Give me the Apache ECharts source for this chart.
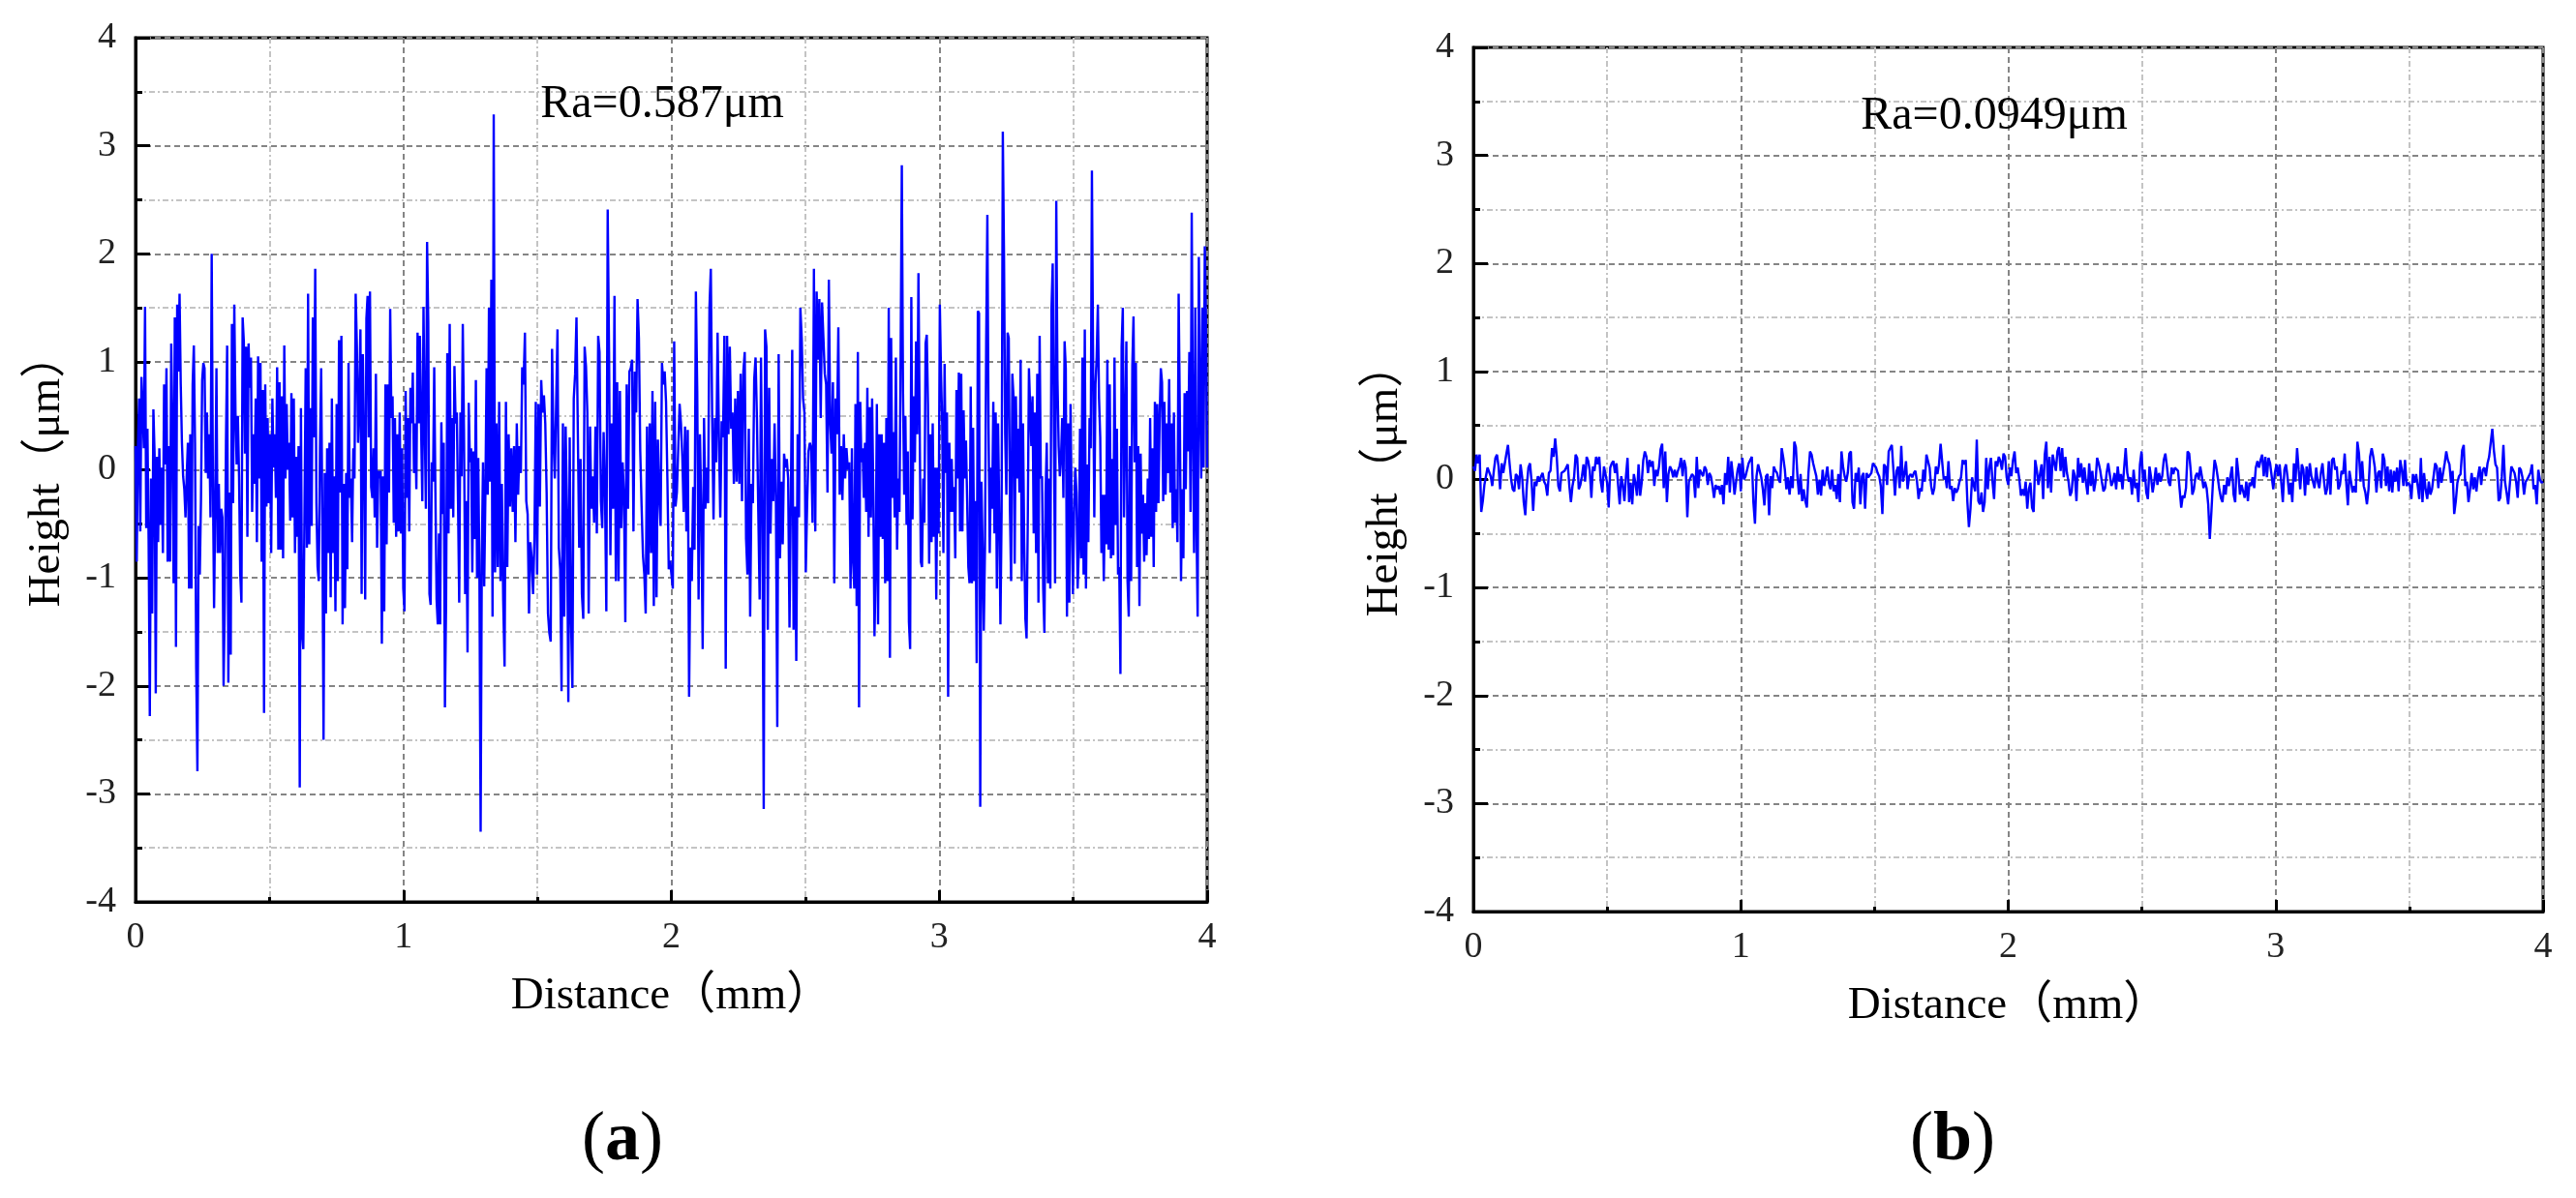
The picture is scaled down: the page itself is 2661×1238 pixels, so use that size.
<!DOCTYPE html>
<html>
<head>
<meta charset="utf-8">
<script src="https://cdn.jsdelivr.net/npm/echarts/dist/echarts.min.js"></script>
<style type="text/css">
    html, body { margin: 0; padding: 0; background: #fff; }
    #chart { width: 2661px; height: 1238px; }
</style>
</head>
<body>
<div id="chart"></div>
<script type="text/javascript">
// panel (a): profile in three pieces, each spread evenly over its own span (mm)
var segA = [0, 1.337, 2.674, 4];
var heightA1 = [
0.22,-0.85,0.2,0.66,-0.57,0.86,0.55,0.2,1.51,-0.54,
0.38,-0.64,-2.28,-0.08,-1.33,0.56,0.15,-2.07,0.12,-0.67,
0.2,-0.51,0.02,-0.77,0.79,0.05,0.94,-0.85,0.22,-0.85,
1.17,0.4,-1.05,1.41,-1.64,1.53,0.91,1.63,0.79,0.25,
-0.06,-0.18,-0.44,-0.06,0.25,-1.1,0.33,-1.1,0.79,1.15,
0.25,-1.84,-2.79,-0.52,-0.97,-0.28,0.83,0.99,0.94,-0.03,
0.53,-0.08,0.33,-0.44,2.0,-0.06,-1.28,-0.29,0.94,-0.77,
-0.13,-0.77,-0.36,-0.44,-2.0,-1.23,0.25,1.15,-1.97,-0.21,
-1.71,1.35,-0.31,1.53,0.53,0.05,0.5,-0.06,-0.97,-1.23,
1.41,1.19,0.15,1.14,-0.62,1.17,0.76,1.04,-0.39,0.33,
-0.13,0.66,-0.67,1.05,-0.08,0.99,-0.85,0.74,-2.25,0.79,
-0.34,0.48,-0.31,0.33,-0.77,0.66,0.02,0.33,-0.26,0.95,
-0.74,0.81,-0.74,0.68,-0.82,1.15,-0.08,0.61,0.0,0.25,
-0.47,0.71,-0.44,0.66,-0.77,0.12,-0.62,0.22,-2.94,0.57,
-1.51,-1.66,-0.36,0.94,-0.72,1.63,-0.69,0.57,-0.52,1.41,
0.3,1.86,-0.31,-0.9,-1.03,0.2,0.94,-0.49,-2.5,-0.03,
-1.33,0.2,-0.77,0.25,-1.18,0.66,-0.77,-0.06,-1.31,0.61,
-1.03,1.2,-0.21,1.24,-1.43,-0.13,-1.28,-0.03,-0.92,0.99,
-0.26,-0.08,-0.67,0.2,-0.08,1.63,1.15,0.25,0.64,1.3,
-1.15,1.07,0.25,-1.2,1.4,1.61,0.3,1.65,-0.16,-0.26,
0.2,-0.44,0.89,-0.72,-0.01,-0.08,-0.01,-1.61,-0.06,-1.31,
0.79,-0.69,0.79,-0.21,1.49,0.48,0.68,-0.49,0.48,-0.62,
0.33,-0.57,0.53,-0.59,0.2,-1.1,-1.31,0.73,-0.26,0.48,
-0.57,0.76,0.43,0.9,-0.03,0.43,-0.18,1.27,0.43,1.24,
0.38,-0.29,1.51,0.43,-0.36,2.11,1.37,-1.15,-1.25,0.07,
-0.11,0.95,-0.21,-1.2,-1.43,-0.59,-1.43,0.44,-0.41,0.25,
-2.2,-1.2,1.08,-0.59,1.35,-0.36,0.48,-0.44,0.96,0.43,
0.53,-0.29,-1.23,0.53,-0.06,1.35,0.38,-1.15,-0.29,-1.69,
0.62,0.07,0.2,-0.95,0.17,-0.64,0.83,-1.0,0.11,-1.0,
-3.35,-0.79,0.07,-1.08,-0.23,0.94,-0.23,1.5,-0.11,1.76,
-1.36
];
var heightA2 = [
3.29,-0.95,0.43,-0.9,0.63,-1.03,-0.13,-1.21,-1.82,0.63,
-0.9,0.33,-0.34,0.2,-0.39,0.22,-0.67,0.43,-0.23,0.22,
-0.03,0.95,0.79,1.27,-0.29,-0.41,-1.33,-0.67,-0.82,-1.15,
-0.64,0.63,-0.97,0.61,-0.34,0.83,0.53,0.69,0.43,-0.21,
-1.33,-1.51,-1.59,1.12,0.3,-0.08,0.61,1.3,-0.72,-0.92,
-2.05,0.43,-1.36,0.4,-0.36,-2.15,0.3,-1.41,-2.02,0.66,
0.89,1.41,1.4,-0.72,0.1,-1.15,-1.38,1.14,0.96,0.53,
-1.33,0.4,-0.36,-0.06,-0.49,0.4,-0.59,1.24,1.09,-0.29,
-0.54,0.35,-0.18,-1.31,2.41,1.09,-0.79,0.43,-0.36,1.61,
-1.03,0.81,-1.03,0.73,-0.54,0.07,-0.23,-1.41,0.79,-0.36,
0.91,0.94,1.02,-0.57,0.91,0.53,1.58,1.22,0.17,-0.34,
-0.79,-0.97,-1.33,0.4,-0.97,0.43,-0.77,0.73,-1.26,0.63,
-1.18,0.28,-0.23,-0.52,0.99,0.79,0.91,0.63,-0.08,-0.92,
-0.84,-0.97,-1.1,1.19,-0.34,-0.21,0.2,0.61,0.43,0.12,
-0.39,0.4,-0.57,0.37,-2.1,-0.72,-1.03,-0.16,-0.74,1.65,
0.73,-1.2,0.33,-0.39,-1.66,0.48,-0.36,0.02,-0.31,1.5,
1.86,0.5,-0.46,0.48,0.07,1.27,0.3,-0.44,0.45,0.3,
1.24,-1.84,1.24,0.33,1.14,0.38,0.53,-0.13,0.66,-0.11,
0.73,-0.13,0.89,-0.29,0.91,1.09,-0.64,-0.97,0.38,-1.36,
-0.13,-0.31,0.84,1.04,0.48,-0.39,-1.2,1.04,-0.39,-3.14,
1.3,1.14,-1.48,0.76,-0.59,0.1,-0.29,0.43,-0.31,-2.38,
1.07,-0.82,-0.11,-0.69,0.15,0.02,0.1,-0.08,-1.46,-0.26,
1.11,-1.48,-0.34,-1.77,0.33,-0.44,1.5,1.22,0.66,0.53,
-0.95,-0.31,0.17,0.25,0.2,-0.49,1.86,-0.57,1.65,1.02,
1.58,0.48,1.55,1.22,0.89,0.79,-0.21,1.76,0.43,0.15,
0.81,-1.05,0.66,0.33,1.32,-0.23,0.22,-0.28,0.33,-0.08,
0.2,0.0,0.07,-1.1
];
var heightA3 = [
0.2,-0.85,-1.1,0.61,-1.26,1.09,-2.2,0.63,0.07,0.2,
-0.26,0.25,-0.39,0.76,-0.62,0.58,-0.44,0.66,-0.21,-1.54,
-0.9,0.61,-1.43,0.33,-0.62,0.33,-0.64,0.25,-1.05,0.48,
-1.03,1.5,-1.74,1.22,-0.26,0.35,-0.44,1.04,-0.74,-0.08,
-0.39,1.05,2.82,0.73,-0.23,0.5,-0.51,0.17,-1.41,-1.66,
1.6,-0.46,0.68,0.07,1.19,0.33,1.82,0.45,-0.85,-0.9,
-0.08,-0.49,1.17,1.25,0.61,-0.87,0.33,-0.67,0.43,-0.62,
0.02,-1.2,0.02,-0.59,1.53,0.89,0.43,-0.77,0.98,-0.03,
0.53,-2.1,0.25,-0.39,0.1,-0.39,-0.16,-0.82,0.74,-0.08,
0.9,-0.57,0.89,-0.57,0.55,-0.08,0.27,-0.29,-0.9,-1.05,
0.77,-1.05,0.39,-1.03,-0.29,-1.79,1.47,1.45,-3.12,-0.11,
-0.72,-1.49,-0.72,1.17,2.36,0.38,-0.77,0.02,-0.36,0.63,
-0.59,0.53,-1.1,0.43,-0.39,-1.43,-0.38,3.13,2.0,0.33,
-0.23,1.27,1.22,-0.36,-1.03,0.89,0.68,-0.87,0.68,-0.08,
0.38,-0.21,1.02,-1.03,0.43,-0.67,-1.38,-1.56,-0.49,0.94,
0.94,0.22,0.68,-0.59,0.53,-0.77,0.89,-1.23,1.24,-0.08,
-0.06,-1.1,-1.51,-0.22,0.25,-1.05,-0.08,-1.1,1.5,1.91,
0.33,-1.05,2.49,0.84,0.22,-0.06,0.12,0.48,-0.26,1.19,
0.94,-1.36,0.43,-1.23,0.61,-0.39,-1.15,-0.39,0.02,-0.21,
-1.1,-0.72,0.38,-0.82,1.04,-0.97,1.3,-1.1,0.05,-0.67,
0.48,0.2,2.77,0.99,-0.44,0.79,1.04,1.53,0.66,0.3,
-0.77,-0.23,-1.03,-0.23,-0.69,1.02,-0.74,0.79,-0.82,0.1,
-0.79,1.04,-0.51,0.38,-0.97,-0.9,-1.89,1.14,1.5,-0.44,
0.4,1.19,-1.03,-1.36,0.22,-1.03,0.96,1.42,0.07,0.99,
-0.9,0.22,-1.26,0.15,-0.59,-0.23,-0.85,-0.31,-0.79,-0.08,
-0.64,0.48,-0.62,0.2,-0.9,0.63,-0.39,0.61,-0.31,0.48,
0.94,0.81,-0.29,0.63,-0.23,0.43,-0.03,0.84,-0.21,0.43,
-0.54,0.53,-0.49,-0.18,-0.67,1.63,0.53,-1.03,-0.18,-0.82,
0.71,-0.18,0.73,0.17,1.09,-0.39,2.38,0.4,-0.77,1.5,
-0.51,-1.36,1.97,0.71,-0.08,1.5,0.02,2.07,1.37,0.02
];

// panel (b): polished profile, two pieces
var segB = [0, 2, 4];
var heightB1 = [
0.12,0.08,0.23,0.15,0.23,-0.3,-0.2,-0.05,-0.05,0.11,
0.11,0.03,-0.06,0.08,0.2,0.23,0.12,-0.09,0.15,0.06,
0.06,0.24,0.32,0.15,0,-0.09,-0.11,0.05,0.03,-0.09,
0.14,0.02,-0.21,-0.33,-0.05,0.11,0.15,-0.02,-0.29,-0.02,
-0.06,0.03,-0.02,0.03,0.06,-0.02,-0.05,-0.15,0.06,0.08,
0.29,0.21,0.38,0.21,-0.06,-0.11,0.06,0.06,0.08,0.11,
0.14,-0.06,-0.21,-0.06,0.02,0.23,0.2,-0.09,-0.05,0.03,
0.14,-0.02,0.21,0.17,0.08,-0.17,0.12,0.08,0.21,0.14,
0.21,-0.02,-0.12,0.12,0.05,-0.03,-0.26,0.11,0.15,0.17,
0.06,0.15,-0.05,-0.23,0.03,-0.05,-0.2,0.03,0.2,-0.21,
-0.03,-0.23,0.05,-0.03,-0.15,0.14,-0.15,-0.03,0.18,0.26,
0.21,0.06,0.18,0.12,0.17,-0.06,0.09,0.03,0.12,0.28,
0.33,-0.08,0.26,-0.21,0.05,0.12,0.09,0.02,0.09,0.02,
0.08,0.12,0.2,0.03,0.18,0.11,-0.35,-0.02,-0.02,0.05,
0.03,-0.17,0.21,-0.08,0.09,0.08,0.03,0.12,0.09,-0.05,
0.06,0.03,-0.06,-0.17,-0.05,-0.09,-0.06,-0.14,-0.05,-0.23,
0.06,-0.05,0.21,-0.12,0.17,0.03,-0.14,-0.02,0.09,0.15,
-0.11,0.2,0,0.03,0.03,0.15,0.15,0.21,-0.21,-0.41,
0.03,0.14,0.14,0.02,-0.09,-0.24,0.03,0.05,-0.33,0.03,
-0.08,0.12,0.08,0.06,0,-0.03,0.29,0.2,0.09,-0.09,
0.02,-0.14,0.03,-0.08,0.35,0.3,0.03,-0.14,0.05,-0.2,
-0.09,-0.2,-0.26,0.06,0.26,0.23,0.15,0.09,0.03,-0.14,
0,-0.15,0.09,-0.06,0.02,0.12,-0.03,-0.09,0.09,-0.11,
-0.05,-0.18,0.05,-0.21,0.26,0.12,0.03,-0.02,0.06,0.24,
0.26,-0.21,-0.27,0.06,-0.02,0.11,-0.23,0.03,0.06,-0.27,
0.06,0.02,0.03,0.06,0.15,0.15,0.11,0.06,0.03,-0.06,
-0.32,0.14,0.12,-0.05,0.26,0.27,0.32,0.09,-0.15,0.08,
0.12,-0.08,0.31,-0.02,0.05,0.17,-0.09,0.03,0.05,0.02,
0.06,0.08,-0.02,-0.18,-0.08,-0.11,0.09,-0.02,0.23,0.24,
0.11,-0.06,-0.14,-0.08,0.12,0.05,0.14,0.33,0.33,0,
0.03,-0.08,0.17,-0.09,-0.06,-0.2,-0.08,-0.12,-0.09,-0.02,
0.02,0.18,0.14,0.18,-0.2,-0.44,-0.27,0.02,-0.05,-0.11,
0.37,-0.2,-0.23,-0.12,-0.3,-0.21,0.2,-0.09,0.11,0.2,
-0.02,-0.18,0.17,0.12,0.21,0.17,0.09,0.24,0.21,0.02
];
var heightB2 = [
-0.05,0.11,0.03,0.18,0.26,0.06,0.11,0,-0.15,-0.09,
-0.15,-0.02,-0.27,-0.09,-0.03,-0.26,-0.3,0.18,0.09,-0.05,
0.05,0.14,-0.18,0.23,0.35,-0.08,0.21,-0.12,0.23,0.24,
0.08,0.26,0.3,0.08,0.29,0.02,0.21,0.06,-0.02,-0.15,
-0.11,0.09,0.03,-0.2,0.2,0.02,0.15,-0.03,0.11,-0.03,
-0.14,0.15,-0.06,0.08,-0.11,-0.02,0.2,0.15,0.08,-0.02,
-0.11,-0.08,0.06,0.15,0.15,-0.06,-0.02,0.06,-0.09,0.12,
-0.02,0.05,-0.09,-0.08,0.29,0.06,-0.02,0.02,-0.14,0.09,
-0.08,-0.03,-0.21,0.14,0.26,-0.02,0.09,-0.12,-0.18,0.12,
0.02,-0.12,-0.02,0.11,-0.05,0.06,-0.02,0.03,0.18,0.24,
0.12,-0.02,-0.06,0.11,0.05,0.11,0.12,0.08,-0.09,-0.26,
-0.15,-0.17,-0.08,0.26,0.24,0.08,-0.14,-0.09,0.03,0.06,
0,0.12,0.03,-0.08,-0.02,-0.08,-0.23,-0.55,-0.3,-0.02,
0.18,0.12,0.02,-0.09,-0.17,-0.21,-0.05,-0.14,0.02,-0.06,
0.03,0.12,-0.14,-0.21,0.2,0.06,-0.14,-0.05,-0.06,-0.17,
-0.02,-0.2,-0.03,-0.06,0.02,-0.08,0.11,0.17,0.11,0.18,
0.23,0.03,0.21,0.02,0.2,0.15,0.14,-0.09,0.06,0.14,
0.03,0.14,-0.02,-0.21,0.09,0.14,0.02,-0.14,-0.03,-0.21,
0.15,-0.02,0.29,0.09,-0.09,0.14,0.09,-0.15,0.12,-0.05,
0.15,0.03,-0.02,-0.08,0.11,-0.02,-0.08,0.06,0.15,-0.02,
-0.14,-0.08,0.17,-0.14,0.18,0.2,0.09,0.12,-0.09,-0.05,
0.08,0.05,0.24,-0.03,-0.24,0.08,0.08,-0.12,-0.06,-0.12,
0.35,0.24,-0.02,0.17,-0.06,-0.12,-0.23,-0.09,0.21,0.29,
0.21,0.11,-0.12,0.06,0.08,-0.08,0.24,0.18,-0.06,0.12,
-0.11,0.09,-0.12,0.08,-0.02,0.11,-0.11,0.18,0.09,-0.06,
0.18,-0.06,-0.03,-0.05,-0.18,0.05,-0.03,0.05,-0.06,-0.18,
0.2,-0.21,0.06,-0.09,-0.18,-0.02,-0.14,-0.09,0.03,0.15,
0.12,-0.08,0.11,-0.03,0.06,0.15,0.26,0.18,0.14,-0.03,
0.08,-0.32,-0.2,-0.03,0.03,0.05,0.27,0.32,-0.06,-0.02,
-0.21,-0.09,0.06,-0.09,0.02,-0.11,0.03,0.12,-0.05,0.09,
0.11,0.03,0.15,0.21,0.21,0.47,0.27,0.14,0.11,-0.2,
-0.17,0.03,0.32,-0.02,-0.12,-0.23,-0.05,0.12,0.12,0.06,
-0.02,-0.17,0.11,0.09,0.02,-0.14,-0.02,0,0.03,0.06,
0.14,-0.09,-0.05,-0.23,0.09,0,-0.03,-0.02
];

var raText = ['Ra=0.587μm', 'Ra=0.0949μm'];
var panelTags = ['a', 'b'];
var xName = 'Distance（mm）';
var yName = 'Height（μm）';

// spread every piece evenly over its span; last piece ends exactly at its end
function buildProfile(pieces, bounds) {
    var out = [];
    for (var p = 0; p < pieces.length; p++) {
        var vals = pieces[p];
        var last = (p == pieces.length - 1);
        var step = (bounds[p + 1] - bounds[p]) / (last ? vals.length - 1 : vals.length);
        for (var i = 0; i < vals.length; i++) {
            out.push([bounds[p] + i * step, vals[i]]);
        }
    }
    return out;
}

var serif = '"Liberation Serif", "Times New Roman", "Noto Sans CJK SC", serif';

function axisPair(idx) {
    var majorGrid = {show: true, lineStyle: {color: '#858585', width: 2, type: [6, 4]}};
    var minorGrid = {show: true, lineStyle: {color: '#c4c4c4', width: 2, type: [6, 3, 2, 3]}};
    var x = {
        type: 'value', gridIndex: idx, min: 0, max: 4, interval: 1,
        name: xName, nameLocation: 'middle', nameGap: 74,
        nameTextStyle: {fontFamily: serif, fontSize: 47, color: '#000'},
        axisLine: {show: true, onZero: false, lineStyle: {color: '#000', width: 3}},
        axisTick: {show: true, inside: true, length: 12, lineStyle: {color: '#000', width: 3}},
        minorTick: {show: true, splitNumber: 2, length: 5, lineStyle: {color: '#000', width: 3}},
        axisLabel: {fontFamily: serif, fontSize: 38, color: '#222', margin: 18},
        splitLine: majorGrid,
        minorSplitLine: minorGrid
    };
    var y = {
        type: 'value', gridIndex: idx, min: -4, max: 4, interval: 1,
        name: yName, nameLocation: 'middle', nameGap: 68,
        nameTextStyle: {fontFamily: serif, fontSize: 47, color: '#000'},
        axisLine: {show: true, onZero: false, lineStyle: {color: '#000', width: 3}},
        axisTick: {show: true, inside: true, length: 15, lineStyle: {color: '#000', width: 3}},
        minorTick: {show: true, splitNumber: 2, length: 7, lineStyle: {color: '#000', width: 3}},
        axisLabel: {fontFamily: serif, fontSize: 38, color: '#222', margin: 20},
        splitLine: majorGrid,
        minorSplitLine: minorGrid
    };
    return [x, y];
}

var ax0 = axisPair(0), ax1 = axisPair(1);

var chart = echarts.init(document.getElementById('chart'));
chart.setOption({
    animation: false,
    backgroundColor: '#fff',
    grid: [
        {left: 140, top: 39, width: 1107, height: 893, show: true, borderColor: '#000', borderWidth: 3, backgroundColor: 'transparent'},
        {left: 1522, top: 49, width: 1105, height: 893, show: true, borderColor: '#000', borderWidth: 3, backgroundColor: 'transparent'}
    ],
    xAxis: [ax0[0], ax1[0]],
    yAxis: [ax0[1], ax1[1]],
    series: [
        {
            type: 'line', xAxisIndex: 0, yAxisIndex: 0,
            data: buildProfile([heightA1, heightA2, heightA3], segA),
            showSymbol: false, lineStyle: {color: '#0000ff', width: 2.4}
        },
        {
            type: 'line', xAxisIndex: 1, yAxisIndex: 1,
            data: buildProfile([heightB1, heightB2], segB),
            showSymbol: false, lineStyle: {color: '#0000ff', width: 2.4}
        }
    ],
    graphic: [
        {type: 'text', x: 684, y: 108, z: 100,
         style: {text: raText[0], font: '48px ' + serif, fill: '#000', align: 'center', verticalAlign: 'middle'}},
        {type: 'text', x: 2060, y: 120, z: 100,
         style: {text: raText[1], font: '48px ' + serif, fill: '#000', align: 'center', verticalAlign: 'middle'}},
        {type: 'text', x: 643, y: 1179, z: 100,
         style: {text: '{p|(}{b|' + panelTags[0] + '}{p|)}', align: 'center', verticalAlign: 'middle',
                 rich: {p: {fontFamily: serif, fontSize: 72, fill: '#000'},
                        b: {fontFamily: serif, fontSize: 72, fontWeight: 'bold', fill: '#000'}}}},
        {type: 'text', x: 2017, y: 1179, z: 100,
         style: {text: '{p|(}{b|' + panelTags[1] + '}{p|)}', align: 'center', verticalAlign: 'middle',
                 rich: {p: {fontFamily: serif, fontSize: 72, fill: '#000'},
                        b: {fontFamily: serif, fontSize: 72, fontWeight: 'bold', fill: '#000'}}}}
    ]
});
</script>
</body>
</html>
